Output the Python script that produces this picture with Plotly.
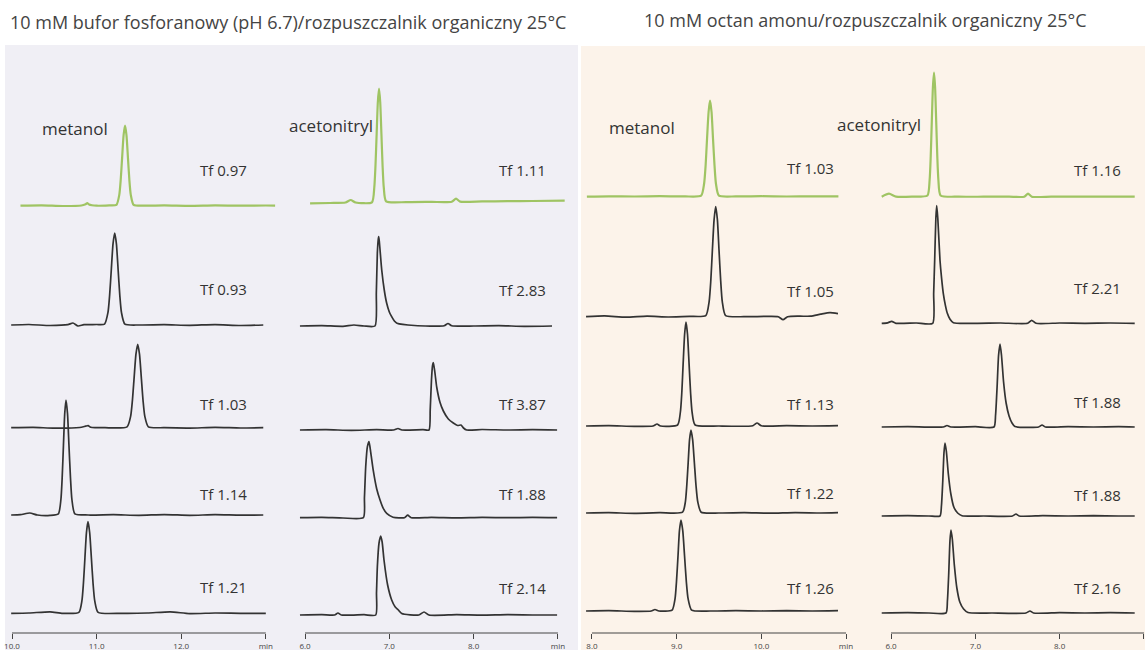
import plotly.graph_objects as go

# ---------------- DATA (time in min, signal relative to each trace's baseline) -------------
# Panel A: phosphate buffer / methanol
mp1_t = [10.10, 10.35, 10.60, 10.82, 10.87, 10.89, 10.91, 11.00, 11.15, 11.234, 11.268, 11.285, 11.302, 11.319, 11.336, 11.353, 11.370, 11.387, 11.404, 11.438, 11.55, 11.80, 12.10, 12.40, 12.70, 13.00, 13.11]
mp1_y = [0, 0.4, -0.3, 0.2, 1.5, 2.5, 1.2, 0, 0.3, 0.8, 10.8, 26, 48.6, 70.6, 80, 70.6, 48.6, 26, 10.8, 0.8, 0, 0.3, -0.2, 0.3, 0, 0.2, 0]
mp2_t = [9.99, 10.20, 10.45, 10.66, 10.72, 10.78, 10.85, 11.00, 11.094, 11.134, 11.154, 11.174, 11.194, 11.214, 11.234, 11.254, 11.274, 11.294, 11.334, 11.50, 11.80, 12.10, 12.40, 12.70, 12.97]
mp2_y = [0, 0.5, -0.5, 0.3, 2, -1, 0.3, 0.5, 0.9, 12.4, 29.9, 55.8, 81.1, 92, 81.1, 55.8, 29.9, 12.4, 0.9, 0, 0.3, -0.3, 0.4, -0.5, 0]
mp3_t = [9.99, 10.25, 10.50, 10.80, 10.87, 10.90, 10.93, 11.10, 11.36, 11.402, 11.423, 11.444, 11.465, 11.486, 11.507, 11.528, 11.549, 11.570, 11.612, 11.80, 12.10, 12.40, 12.70, 12.97]
mp3_y = [0, 0.4, -0.5, 0.2, 1.5, 2, 0.5, 0, 0.8, 11.3, 27.1, 50.6, 73.6, 83.4, 73.6, 50.6, 27.1, 11.3, 0.8, 0, -0.4, 0.3, -0.3, 0]
mp4_t = [9.99, 10.10, 10.21, 10.30, 10.45, 10.548, 10.578, 10.593, 10.608, 10.623, 10.638, 10.656, 10.673, 10.691, 10.708, 10.743, 10.90, 11.20, 11.50, 11.80, 12.10, 12.40, 12.70, 12.97]
mp4_y = [0, 0.3, 2, 0, -0.4, 1.2, 15.5, 37.4, 69.8, 101.4, 115, 101.4, 69.8, 37.4, 15.5, 1.2, 0, 0.3, -0.3, 0.4, -0.3, 0.3, -0.2, 0]
mp5_t = [9.99, 10.20, 10.45, 10.60, 10.79, 10.826, 10.844, 10.862, 10.880, 10.898, 10.918, 10.938, 10.958, 10.978, 11.018, 11.30, 11.60, 11.87, 12.10, 12.40, 12.70, 13.00]
mp5_y = [0, 0.3, 1.5, 0, 0.9, 12.4, 29.8, 55.6, 80.8, 91.6, 80.8, 55.6, 29.8, 12.4, 0.9, 0, 0.3, 1.5, -0.3, 0.3, 0, 0]
mp_offsets = [444.3, 325, 222.3, 135, 36.7]
mp_tf = ["Tf 0.97", "Tf 0.93", "Tf 1.03", "Tf 1.14", "Tf 1.21"]

# Panel B: phosphate buffer / acetonitrile
ap1_t = [6.06, 6.30, 6.48, 6.542, 6.60, 6.794, 6.822, 6.836, 6.850, 6.864, 6.878, 6.892, 6.906, 6.920, 6.934, 6.962, 7.20, 7.50, 7.74, 7.791, 7.84, 8.10, 8.40, 8.70, 9.08]
ap1_y = [0, 0.3, 0.8, 3.3, 0.8, 1.0, 16.2, 37.8, 70, 101.3, 114.8, 101.3, 70, 37.8, 16.2, 1.9, 1.2, 1.4, 1.6, 4.6, 1.7, 1.9, 2.1, 2.3, 2.6]
ap2_t = [5.94, 6.20, 6.45, 6.58, 6.70, 6.830, 6.846, 6.858, 6.868, 6.874, 6.882, 6.910, 6.940, 6.969, 7.000, 7.028, 7.060, 7.091, 7.30, 7.65, 7.696, 7.74, 8.00, 8.30, 8.60, 8.93]
ap2_y = [0, 0.4, -0.3, 1, 0, 0, 33, 72.7, 86, 89.3, 84, 56, 36, 22.7, 14, 9.3, 5, 2.7, 0.5, 0.3, 2.5, 0.3, 0, 0.3, -0.3, 0]
ap3_t = [5.94, 6.25, 6.55, 6.85, 7.05, 7.103, 7.15, 7.40, 7.471, 7.485, 7.500, 7.512, 7.522, 7.540, 7.562, 7.600, 7.641, 7.700, 7.759, 7.810, 7.851, 7.880, 7.918, 8.10, 8.40, 8.70, 8.99]
ap3_y = [0, 0.3, -0.3, 0.3, 0, 1.5, 0, 0.3, 0, 20, 50, 64, 67.3, 58, 43, 28, 19, 11, 7, 4.5, 5, 2, 0, 0.5, 0, 0.3, 0]
ap4_t = [5.94, 6.20, 6.45, 6.692, 6.705, 6.720, 6.740, 6.759, 6.780, 6.810, 6.850, 6.890, 6.930, 6.969, 7.044, 7.18, 7.218, 7.26, 7.50, 7.80, 8.10, 8.40, 8.70, 8.99]
ap4_y = [0, 0.3, -0.3, 0, 20, 51, 71, 76, 65, 47, 29, 17.7, 9, 4.3, 0.5, 0, 2.5, 0, 0.3, -0.2, 0.3, 0, 0.3, 0]
ap5_t = [5.94, 6.20, 6.35, 6.391, 6.43, 6.70, 6.839, 6.848, 6.858, 6.878, 6.898, 6.915, 6.937, 6.980, 7.028, 7.070, 7.107, 7.147, 7.35, 7.412, 7.47, 7.80, 8.10, 8.40, 8.70, 8.99]
ap5_y = [0, 0.3, 0, 2, 0, 0.3, 0, 22, 48, 72, 79, 73, 55, 30, 15, 8, 5, 1.5, 0, 3, 0, 0.3, -0.2, 0.3, 0, 0]
ap_offsets = [446.7, 324, 220, 132.3, 35]
ap_tf = ["Tf 1.11", "Tf 2.83", "Tf 3.87", "Tf 1.88", "Tf 2.14"]

# Panel C: ammonium acetate / methanol
am1_t = [7.94, 8.20, 8.50, 8.80, 9.10, 9.289, 9.324, 9.342, 9.359, 9.377, 9.394, 9.412, 9.429, 9.447, 9.464, 9.499, 9.70, 10.00, 10.30, 10.60, 10.91]
am1_y = [0, 0.4, 0.2, 0.5, 0.3, 1, 13, 31.2, 58.3, 84.7, 96, 84.7, 58.3, 31.2, 13, 1, 0.3, 0.5, 0.2, 0.4, 0.3]
am2_t = [7.93, 8.15, 8.40, 8.65, 8.90, 9.15, 9.344, 9.383, 9.403, 9.422, 9.442, 9.461, 9.481, 9.500, 9.520, 9.539, 9.578, 9.80, 10.05, 10.20, 10.256, 10.31, 10.45, 10.58, 10.70, 10.81, 10.905]
am2_y = [0, 0.8, -0.5, 0.5, -0.3, 0.3, 1.1, 14.9, 35.8, 66.8, 97, 110, 97, 66.8, 35.8, 14.9, 1.1, 0, 0.3, 0, -3, 0, 0.5, 0.5, 2.5, 4, 3]
am3_t = [7.93, 8.20, 8.50, 8.72, 8.768, 8.81, 9.011, 9.044, 9.061, 9.077, 9.094, 9.110, 9.128, 9.146, 9.164, 9.182, 9.218, 9.50, 9.90, 9.949, 10.00, 10.30, 10.60, 10.905]
am3_y = [0, 0.3, -0.3, 0, 2, 0, 1, 14, 33.8, 63.1, 91.7, 104, 91.7, 63.1, 33.8, 14, 1, 0, 0.3, 3, 0.2, 0.3, 0, 0.3]
am4_t = [7.93, 8.20, 8.50, 8.80, 9.070, 9.103, 9.119, 9.136, 9.152, 9.169, 9.189, 9.209, 9.229, 9.249, 9.289, 9.50, 9.80, 10.10, 10.40, 10.70, 10.905]
am4_y = [0, 0.3, -0.3, 0.3, 0.8, 11.2, 27, 50.4, 73.2, 83, 73.2, 50.4, 27, 11.2, 0.8, 0, 0.3, -0.2, 0.4, 0, 0.3]
am5_t = [7.93, 8.20, 8.50, 8.70, 8.744, 8.79, 8.946, 8.981, 8.998, 9.016, 9.033, 9.051, 9.072, 9.093, 9.114, 9.135, 9.177, 9.40, 9.70, 10.00, 10.30, 10.60, 10.905]
am5_y = [0, 0.3, -0.3, 0, 1.5, 0, 0.9, 12.3, 29.6, 55.2, 80.3, 91, 80.3, 55.2, 29.6, 12.3, 0.9, 0, 0.3, 0, 0.3, 0, 0.3]
am_offsets = [453.3, 333.3, 224, 137, 39]
am_tf = ["Tf 1.03", "Tf 1.05", "Tf 1.13", "Tf 1.22", "Tf 1.26"]

# Panel D: ammonium acetate / acetonitrile
aa1_t = [5.89, 5.976, 6.06, 6.25, 6.432, 6.458, 6.471, 6.484, 6.497, 6.510, 6.523, 6.536, 6.549, 6.562, 6.588, 6.80, 7.10, 7.40, 7.58, 7.625, 7.67, 7.90, 8.20, 8.50, 8.89]
aa1_y = [0, 3, 0, 0, 1.2, 16.7, 40.3, 75.3, 109.4, 124, 109.4, 75.3, 40.3, 16.7, 1.2, 0, 0, 0, 0, 3, 0, 0, 0, 0, 0]
aa2_t = [5.89, 5.96, 6.008, 6.06, 6.30, 6.494, 6.506, 6.518, 6.532, 6.542, 6.555, 6.581, 6.600, 6.620, 6.645, 6.668, 6.700, 6.740, 7.00, 7.30, 7.62, 7.668, 7.72, 8.00, 8.30, 8.60, 8.89]
aa2_y = [0, 0.5, 2, 0, 0.3, 0, 30, 63, 105, 117.6, 105, 63, 45, 30, 18, 10, 4, 0.5, 0, 0.3, 0, 3, 0, 0.3, 0, 0.3, 0]
aa3_t = [5.89, 6.20, 6.62, 6.664, 6.71, 7.00, 7.221, 7.240, 7.258, 7.276, 7.293, 7.310, 7.335, 7.365, 7.400, 7.435, 7.470, 7.75, 7.791, 7.83, 8.10, 8.40, 8.70, 8.89]
aa3_y = [0, 0.3, 0, 1.5, 0, 0.3, 0, 12, 40, 72, 83, 72, 45, 24, 11, 4, 0.5, 0, 2, 0, 0.3, 0, 0.3, 0]
aa4_t = [5.89, 6.20, 6.45, 6.581, 6.598, 6.614, 6.628, 6.640, 6.656, 6.680, 6.710, 6.745, 6.790, 6.842, 7.10, 7.44, 7.482, 7.52, 7.80, 8.10, 8.40, 8.70, 8.89]
aa4_y = [0, 0.3, 0, 0, 10, 35, 63, 73, 65, 42, 22, 9, 3, 0.3, 0, 0, 2, 0, 0.3, 0, 0.3, 0, 0]
aa5_t = [5.89, 6.20, 6.45, 6.652, 6.669, 6.685, 6.699, 6.711, 6.727, 6.751, 6.781, 6.816, 6.861, 6.913, 7.20, 7.60, 7.648, 7.69, 8.00, 8.30, 8.60, 8.89]
aa5_y = [0, 0.3, 0, 0, 12, 40, 72, 83, 74, 48, 25, 11, 4, 0.5, 0, 0, 2, 0, 0.3, 0, 0.3, 0]
aa_offsets = [453.3, 326.7, 223, 134, 37]
aa_tf = ["Tf 1.16", "Tf 2.21", "Tf 1.88", "Tf 1.88", "Tf 2.16"]

tick_vals = [[10, 11, 12, 13], [6, 7, 8, 9], [8, 9, 10, 11], [6, 7, 8, 9]]
tick_text = [["10.0", "11.0", "12.0", "min"], ["6.0", "7.0", "8.0", "min"],
             ["8.0", "9.0", "10.0", "min"], ["6.0", "7.0", "8.0", "min"]]

titles = ["10 mM bufor fosforanowy (pH 6.7)/rozpuszczalnik organiczny 25°C",
          "10 mM octan amonu/rozpuszczalnik organiczny 25°C"]
solvents = ["metanol", "acetonitryl", "metanol", "acetonitryl"]

# ---------------- LAYOUT / STYLE -------------------------------------------------------
W, H = 1145, 650
FONT = "Open Sans"
GREEN = "#9fc463"
DARK = "#333333"
LAV = "#f0eff5"
PEACH = "#fcf3ea"

x_domains = [[0, 290 / W], [290 / W, 578 / W], [578 / W, 870 / W], [870 / W, 1.0]]
x_ranges = [[9.858, 13.286], [5.822, 9.238], [7.835, 11.283], [5.751, 9.012]]
axis_pos = 17 / H

panels = [
    ([mp1_t, mp2_t, mp3_t, mp4_t, mp5_t], [mp1_y, mp2_y, mp3_y, mp4_y, mp5_y], mp_offsets, mp_tf),
    ([ap1_t, ap2_t, ap3_t, ap4_t, ap5_t], [ap1_y, ap2_y, ap3_y, ap4_y, ap5_y], ap_offsets, ap_tf),
    ([am1_t, am2_t, am3_t, am4_t, am5_t], [am1_y, am2_y, am3_y, am4_y, am5_y], am_offsets, am_tf),
    ([aa1_t, aa2_t, aa3_t, aa4_t, aa5_t], [aa1_y, aa2_y, aa3_y, aa4_y, aa5_y], aa_offsets, aa_tf),
]

# label positions in pixels (right edge of Tf text, vertical centres)
tf_right_px = [249, 548, 836, 1123]
tf_y_px = [[170, 289, 404, 494, 587], [170, 290, 404, 494, 588],
           [168, 291, 404, 493, 588], [170, 288, 402, 495, 588]]
solv_px = [(40, 128), (287, 126), (607, 127), (835, 125)]

fig = go.Figure()
ann = []
shapes = [
    dict(type="rect", xref="paper", yref="paper", x0=5 / W, x1=578 / W, y0=0, y1=1 - 45 / H,
         fillcolor=LAV, line=dict(width=0), layer="below"),
    dict(type="rect", xref="paper", yref="paper", x0=581 / W, x1=1, y0=0, y1=1 - 46 / H,
         fillcolor=PEACH, line=dict(width=0), layer="below"),
]

for p, (ts, ys, offs, tfs) in enumerate(panels):
    xa = "x" if p == 0 else f"x{p + 1}"
    for r in range(5):
        fig.add_trace(go.Scatter(
            x=ts[r], y=[v + offs[r] for v in ys[r]], xaxis=xa, yaxis="y",
            mode="lines",
            line=dict(color=GREEN if r == 0 else DARK, width=2.2 if r == 0 else 1.7,
                      shape="spline", smoothing=0.6),
            hoverinfo="skip", showlegend=False))
        ann.append(dict(text=tfs[r], xref="paper", yref="paper", x=tf_right_px[p] / W,
                        y=1 - tf_y_px[p][r] / H, xanchor="right", yanchor="middle",
                        showarrow=False, font=dict(family=FONT, size=15, color="#333")))
    # axis baseline between first and last tick
    shapes.append(dict(type="line", xref=xa, yref="paper", x0=tick_vals[p][0], x1=tick_vals[p][-1],
                       y0=axis_pos, y1=axis_pos, line=dict(color="#444", width=1)))
    sx, sy = solv_px[p]
    ann.append(dict(text=solvents[p], xref="paper", yref="paper", x=sx / W, y=1 - sy / H,
                    xanchor="left", yanchor="middle", showarrow=False,
                    font=dict(family=FONT, size=17, color="#333")))

ann.append(dict(text=titles[0], xref="paper", yref="paper", x=288 / W, y=1 - 22 / H,
                xanchor="center", yanchor="middle", showarrow=False,
                font=dict(family=FONT, size=18, color="#444")))
ann.append(dict(text=titles[1], xref="paper", yref="paper", x=865 / W, y=1 - 20 / H,
                xanchor="center", yanchor="middle", showarrow=False,
                font=dict(family=FONT, size=18, color="#444")))

layout = dict(
    width=W, height=H, autosize=False,
    margin=dict(l=0, r=0, t=0, b=0),
    paper_bgcolor="white", plot_bgcolor="rgba(0,0,0,0)",
    yaxis=dict(domain=[0, 1], range=[0, H], visible=False, fixedrange=True),
    annotations=ann, shapes=shapes,
)
for p in range(4):
    key = "xaxis" if p == 0 else f"xaxis{p + 1}"
    layout[key] = dict(domain=x_domains[p], range=x_ranges[p], anchor="free", position=axis_pos,
                       showgrid=False, zeroline=False, showline=False,
                       ticks="outside", ticklen=5, tickwidth=1, tickcolor="#444",
                       tickvals=tick_vals[p], ticktext=tick_text[p],
                       tickfont=dict(family=FONT, size=8, color="#444"), fixedrange=True)
fig.update_layout(**layout)
fig.write_html("out.html", config={"displayModeBar": False},
               post_script="document.body.style.margin='0px';document.body.style.overflow='hidden';")
